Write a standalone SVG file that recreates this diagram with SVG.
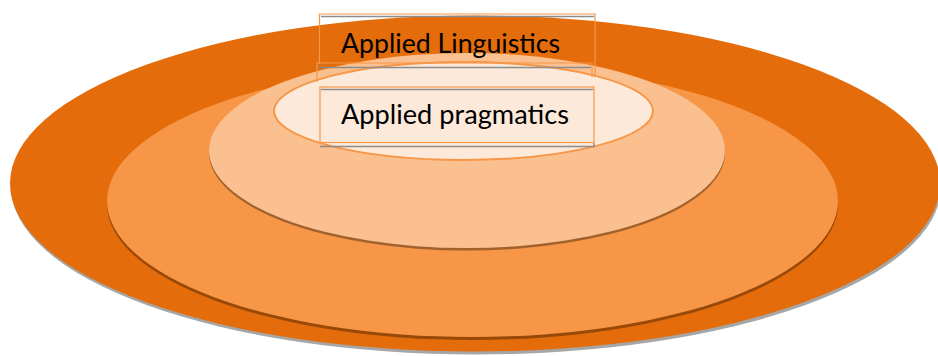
<svg xmlns="http://www.w3.org/2000/svg" width="938" height="356" viewBox="0 0 938 356">
  <style>
    .lbl { font-family: Lato, "Open Sans", "Liberation Sans", sans-serif; font-size: 26px; fill: #000000; }
    .box { fill: none; stroke: #F79646; stroke-width: 1.2; }
    .sh { fill: none; stroke: #8C8C8C; stroke-width: 1.5; }
  </style>
  <rect width="938" height="356" fill="#FFFFFF"/>
  <g id="outer">
    <ellipse cx="476" cy="186.5" rx="465" ry="168" fill="#A6A6A6"/>
    <ellipse cx="475" cy="183.5" rx="465" ry="168" fill="#E46C0A"/>
  </g>
  <g id="middle">
    <ellipse cx="472.5" cy="204" rx="365.5" ry="136" fill="#984807"/>
    <ellipse cx="472.5" cy="201" rx="365.5" ry="136" fill="#F79646"/>
  </g>
  <g id="inner">
    <ellipse cx="467" cy="153" rx="258" ry="97.5" fill="#A0612C"/>
    <ellipse cx="467" cy="150.5" rx="258" ry="97.5" fill="#FAC090"/>
  </g>
  <g id="core">
    <ellipse cx="463.5" cy="111" rx="189.5" ry="49" fill="#FDE9D9" stroke="#F79646" stroke-width="2"/>
  </g>
  <g id="applied-linguistics">
    <line class="sh" x1="321" y1="16.5" x2="594" y2="16.5"/>
    <path class="box" d="M319.5 64 V14 H595 V77"/>
    <text class="lbl" x="341" y="52.5" textLength="219" lengthAdjust="spacingAndGlyphs">Applied Linguistics</text>
  </g>
  <g id="frame">
    <line class="sh" x1="318" y1="67.5" x2="591" y2="67.5"/>
    <path class="box" d="M317 82 V63 H592 V77"/>
  </g>
  <g id="applied-pragmatics">
    <path class="sh" d="M320 146.5 H594 V143"/>
    <line class="sh" x1="321" y1="89.5" x2="593" y2="89.5"/>
    <rect class="box" x="320" y="87" width="274" height="55.5"/>
    <text class="lbl" x="341" y="123.5" textLength="228" lengthAdjust="spacingAndGlyphs">Applied pragmatics</text>
  </g>
  <g id="connectors"/>
</svg>
